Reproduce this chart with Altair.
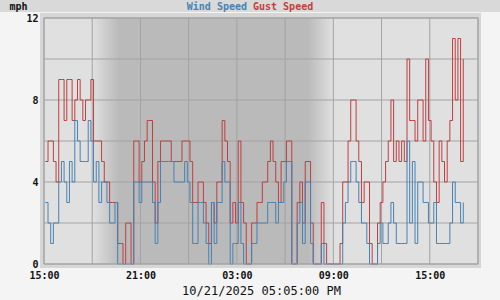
import altair as alt
import pandas as pd

# ---- data (10-minute samples, mph) ----
START = "2025-10-20T15:05:00Z"
gust = [5,6,6,5,4,9,9,7,9,9,
        7,8,9,8,7,8,8,9,6,6,
        6,5,4,4,3,3,3,1,1,0,
        2,2,0,6,6,4,5,6,7,7,
        4,2,5,6,6,6,6,5,5,5,
        5,6,6,6,5,3,3,4,4,3,
        2,1,3,2,4,4,7,6,5,2,
        3,2,6,3,2,0,0,2,2,3,
        3,4,4,5,6,5,4,3,5,5,
        6,6,0,0,3,4,2,5,5,2,
        0,0,0,3,1,0,0,0,0,0,
        1,4,4,6,8,8,6,5,3,4,
        4,1,0,0,2,3,4,5,6,8,
        5,6,5,6,5,10,7,7,6,8,
        8,6,10,7,6,4,3,6,5,4,
        6,7,11,8,11,5,10]
wind = [3,2,1,2,2,4,5,4,3,5,
        4,7,6,5,5,5,7,6,4,5,
        3,4,4,3,2,2,3,0,0,0,
        0,0,0,4,4,3,4,4,4,4,
        3,1,3,5,5,5,5,5,4,4,
        4,4,5,4,3,1,1,3,3,2,
        1,0,3,1,3,3,5,4,4,0,
        1,1,3,1,0,0,0,1,1,2,
        2,2,2,3,3,3,2,3,3,4,
        5,5,0,0,2,3,1,4,4,1,
        0,0,0,1,0,0,0,0,0,0,
        0,2,3,4,5,5,4,3,2,2,
        1,0,0,0,1,2,1,1,2,3,
        2,1,1,1,1,6,2,5,1,4,
        4,3,3,2,2,3,1,1,1,1,
        1,2,4,3,3,2,3]

DOMAIN_START = "2025-10-20T15:00:00Z"
DOMAIN_END = "2025-10-21T18:00:00Z"
DUSK = ("2025-10-20T18:00:00Z", "2025-10-20T19:40:00Z")
DAWN = ("2025-10-21T07:25:00Z", "2025-10-21T09:00:00Z")
y_ticks = [0, 2, 4, 6, 8, 10, 12]
TITLE = "10/21/2025 05:05:00 PM"

FMT = "%Y-%m-%dT%H:%M:%SZ"
times = pd.date_range(START, periods=len(wind), freq="10min").strftime(FMT).tolist()
grid_times = pd.date_range(DOMAIN_START, DOMAIN_END, freq="3h")
grid_ms = [int(t.value // 10**6) for t in grid_times]
grid_str = grid_times.strftime(FMT).tolist()

d0 = pd.Timestamp(DOMAIN_START); d1 = pd.Timestamp(DOMAIN_END)
span = (d1 - d0).total_seconds()
def off(s):
    return (pd.Timestamp(s) - d0).total_seconds() / span

LIGHT = "#e0e0e0"
DARK = "#bababa"
GRID = "#a3a3a3"
BLUE = "#4682b4"
RED = "#bf3f3f"
FONT = "DejaVu Sans Mono"

W, H = 434, 246

x_scale = alt.Scale(type="utc", domain=[grid_ms[0], grid_ms[-1]])
y_scale = alt.Scale(domain=[0, 12])
x_axis = alt.Axis(values=grid_ms, grid=False, ticks=False, domain=False,
                  labelExpr="utchours(datum.value) % 6 == 3 ? utcFormat(datum.value, '%H:%M') : ''",
                  labelFlush=False, labelOverlap=False, labelFont=FONT, labelFontSize=10,
                  labelFontWeight="bold", labelColor="#111", labelPadding=6,
                  title=TITLE, titleFont=FONT, titleFontSize=12, titleFontWeight="normal",
                  titleColor="#111", titlePadding=5)
y_axis = alt.Axis(values=y_ticks, grid=False, ticks=False, domain=False,
                  labelExpr="datum.value % 4 == 0 ? datum.label : ''",
                  labelFont=FONT, labelFontSize=10, labelFontWeight="bold",
                  labelColor="#111", labelPadding=6, title=None)

one = pd.DataFrame({"a": [0]})

header = alt.Chart(one).mark_rect(color="#d9d9d9").encode(
    x=alt.value(-44), x2=alt.value(W + 22), y=alt.value(-18), y2=alt.value(-6))
panel = alt.Chart(one).mark_rect(color="#d6d6d6").encode(
    x=alt.value(-4), x2=alt.value(W + 3), y=alt.value(-5), y2=alt.value(H + 4))

grad = alt.LinearGradient(
    gradient="linear", x1=0, x2=1, y1=0, y2=0,
    stops=[alt.GradientStop(color=LIGHT, offset=0),
           alt.GradientStop(color=LIGHT, offset=off(DUSK[0])),
           alt.GradientStop(color=DARK, offset=off(DUSK[1])),
           alt.GradientStop(color=DARK, offset=off(DAWN[0])),
           alt.GradientStop(color=LIGHT, offset=off(DAWN[1])),
           alt.GradientStop(color=LIGHT, offset=1)])
bg_df = pd.DataFrame({"t": [DOMAIN_START], "t2": [DOMAIN_END]})
bg = alt.Chart(bg_df).mark_rect(fill=grad).encode(
    x=alt.X("t:T", scale=x_scale, axis=x_axis), x2="t2:T")

gx = alt.Chart(pd.DataFrame({"t": grid_str})).mark_rule(color=GRID, strokeWidth=1).encode(
    x=alt.X("t:T", scale=x_scale, axis=x_axis))
gy = alt.Chart(pd.DataFrame({"v": y_ticks})).mark_rule(color=GRID, strokeWidth=1).encode(
    y=alt.Y("v:Q", scale=y_scale, axis=y_axis))

gust_df = pd.DataFrame({"t": times, "v": gust})
wind_df = pd.DataFrame({"t": times, "v": wind})
gust_line = alt.Chart(gust_df).mark_line(color=RED, strokeWidth=1, interpolate="step-after").encode(
    x=alt.X("t:T", scale=x_scale, axis=x_axis), y=alt.Y("v:Q", scale=y_scale, axis=y_axis))
wind_line = alt.Chart(wind_df).mark_line(color=BLUE, strokeWidth=1, interpolate="step-after").encode(
    x=alt.X("t:T", scale=x_scale, axis=x_axis), y=alt.Y("v:Q", scale=y_scale, axis=y_axis))

frame = alt.Chart(one).mark_rect(fillOpacity=0, stroke=GRID, strokeWidth=1).encode(
    x=alt.value(0), x2=alt.value(W), y=alt.value(0), y2=alt.value(H))

def label(txt, x, color, align):
    return alt.Chart(one).mark_text(font=FONT, fontSize=10, fontWeight="bold", color=color,
                                    align=align, baseline="middle").encode(
        x=alt.value(x), y=alt.value(-11.5), text=alt.value(txt))

chart = alt.layer(
    header, panel, bg, gx, gy, gust_line, wind_line, frame,
    label("mph", -25.5, "#111", "center"),
    label("Wind Speed", 203, BLUE, "right"),
    label("Gust Speed", 209, RED, "left"),
).properties(
    width=W, height=H,
    autosize=alt.AutoSizeParams(type="none"),
    padding={"left": 44, "top": 18, "right": 22, "bottom": 36},
    background="#f4f4f4",
).configure_view(stroke=None)

chart.save("out.html", embed_options={"renderer": "svg", "actions": False})
